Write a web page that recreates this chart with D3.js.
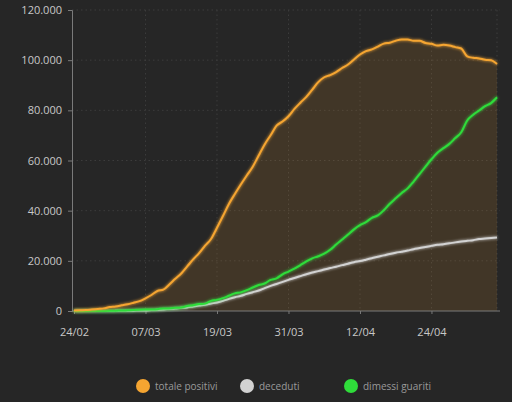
<!DOCTYPE html>
<html>
<head>
<meta charset="utf-8">
<script src="https://cdn.jsdelivr.net/npm/d3@7"></script>
<style>
  html, body { margin: 0; padding: 0; background: #262626; }
  svg { display: block; }
  text { font-family: "Open Sans", "DejaVu Sans", sans-serif; }
</style>
</head>
<body>
<svg id="chart"></svg>
<script>
//Data: Italy, 24/02 - 05/05
var startDate = "2020-02-24";
var totalePositivi = [221,311,385,588,821,1049,1577,1835,2263,2706,3296,3916,5061,6387,7985,8514,10590,12839,14955,17750,20603,23073,26062,28710,33190,37860,42681,46638,50418,54030,57521,62013,66414,70065,73880,75528,77635,80572,83049,85388,88274,91246,93187,94067,95262,96877,98273,100269,102253,103616,104291,105418,106607,106962,107771,108257,108237,107709,107699,106848,106527,105847,106103,105813,105205,104657,101551,100943,100704,100179,99980,98467];
var deceduti = [7,10,12,17,21,29,34,52,79,107,148,197,233,366,463,631,827,1016,1266,1441,1809,2158,2503,2978,3405,4032,4825,5476,6077,6820,7503,8165,9134,10023,10779,11591,12428,13155,13915,14681,15362,15887,16523,17127,17669,18279,18849,19468,19899,20465,21067,21645,22170,22745,23227,23660,24114,24648,25085,25549,25969,26384,26644,26977,27359,27682,27967,28236,28710,28884,29079,29315];
var dimessiGuariti = [1,1,3,45,46,50,83,149,160,276,414,523,589,622,724,1004,1045,1258,1439,1966,2335,2749,2941,4025,4440,5129,6072,7024,7432,8326,9362,10361,10950,12384,13030,14620,15729,16847,18278,19758,20996,21815,22837,24392,26491,28470,30455,32534,34211,35435,37130,38092,40164,42727,44927,47055,48877,51600,54543,57576,60498,63120,64928,66624,68941,71252,75945,78249,79914,81654,82879,85231];
var xTickLabels = ["24/02","07/03","19/03","31/03","12/04","24/04"];
var yTicks = [0,20000,40000,60000,80000,100000,120000];
var legendLabels = ["totale positivi","deceduti","dimessi guariti"];
var seriesColors = ["#f5a531","#d2d2d2","#2fdc3a"];

var W = 512, H = 402;
var svg = d3.select("#chart").attr("width", W).attr("height", H);

var parse = d3.timeParse("%Y-%m-%d");
var fmtDay = d3.timeFormat("%d/%m");
var t0 = parse(startDate);
function dateAt(i) { return d3.timeDay.offset(t0, i); }

var x = d3.scaleTime()
  .domain([t0, dateAt(totalePositivi.length - 1)])
  .range([74, 497]);
var y = d3.scaleLinear().domain([0, 120000]).range([311, 10]);

var it = d3.formatLocale({decimal: ",", thousands: ".", grouping: [3], currency: ["€", ""]});
var fmt = it.format(",d");

//glow filter
var defs = svg.append("defs");
var f = defs.append("filter").attr("id", "glow")
  .attr("x", "-10%").attr("y", "-10%").attr("width", "120%").attr("height", "120%");
f.append("feGaussianBlur").attr("stdDeviation", 1.6).attr("result", "b");
var m = f.append("feMerge");
m.append("feMergeNode").attr("in", "b");
m.append("feMergeNode").attr("in", "SourceGraphic");

var tickDates = xTickLabels.map(function(s) {
  var p = s.split("/");
  return new Date(2020, +p[1] - 1, +p[0]);
});

//grid
svg.append("g").selectAll("line").data(yTicks.slice(1)).enter().append("line")
  .attr("x1", 72).attr("x2", 500)
  .attr("y1", function(d) { return y(d); }).attr("y2", function(d) { return y(d); })
  .style("stroke", "#3c3c3c").style("stroke-dasharray", "1.5,3");
svg.append("g").selectAll("line").data(tickDates.slice(1).concat([x.domain()[1]])).enter().append("line")
  .attr("x1", function(d) { return x(d); }).attr("x2", function(d) { return x(d); })
  .attr("y1", 10).attr("y2", 311)
  .style("stroke", "#3c3c3c").style("stroke-dasharray", "1.5,3");

//area under totale positivi
var area = d3.area()
  .x(function(d, i) { return x(dateAt(i)); })
  .y0(y(0))
  .y1(function(d) { return y(d); })
  .curve(d3.curveMonotoneX);
svg.append("path").datum(totalePositivi)
  .attr("d", area)
  .style("fill", "#f5a531").style("fill-opacity", 0.13);

//axes
var yAxis = d3.axisLeft(y).tickValues(yTicks).tickSize(4).tickFormat(fmt);
var gy = svg.append("g").attr("transform", "translate(72,0)").call(yAxis);
var xAxis = d3.axisBottom(x).tickValues(tickDates).tickSize(3).tickFormat(fmtDay);
var gx = svg.append("g").attr("transform", "translate(0,311)").call(xAxis);
gx.select(".domain").attr("d", "M72,0H500");
[gy, gx].forEach(function(g) {
  g.selectAll(".domain, line").style("stroke", "#7a7a7a");
  g.selectAll("text").style("fill", "#c8c8c8").style("font-size", "11px");
});
gy.selectAll("text").attr("x", -10);
gx.selectAll("text").attr("dy", "1.7em");

//lines
var line = d3.line()
  .x(function(d, i) { return x(dateAt(i)); })
  .y(function(d) { return y(d); })
  .curve(d3.curveMonotoneX);
[deceduti, dimessiGuariti, totalePositivi].forEach(function(s, k) {
  var c = [1, 2, 0][k];
  svg.append("path").datum(s)
    .attr("d", line)
    .attr("filter", "url(#glow)")
    .style("fill", "none")
    .style("stroke", seriesColors[c])
    .style("stroke-width", 2);
});

//legend
var legX = [143, 247, 351];
var leg = svg.append("g").selectAll("g").data(legendLabels).enter().append("g")
  .attr("transform", function(d, i) { return "translate(" + legX[i] + ",386)"; });
leg.append("circle").attr("r", 7)
  .style("fill", function(d, i) { return seriesColors[i]; });
leg.append("text").attr("x", 12).attr("dy", "0.35em")
  .style("fill", "#9a9a9a").style("font-size", "10px")
  .text(function(d) { return d; });
</script>
</body>
</html>
